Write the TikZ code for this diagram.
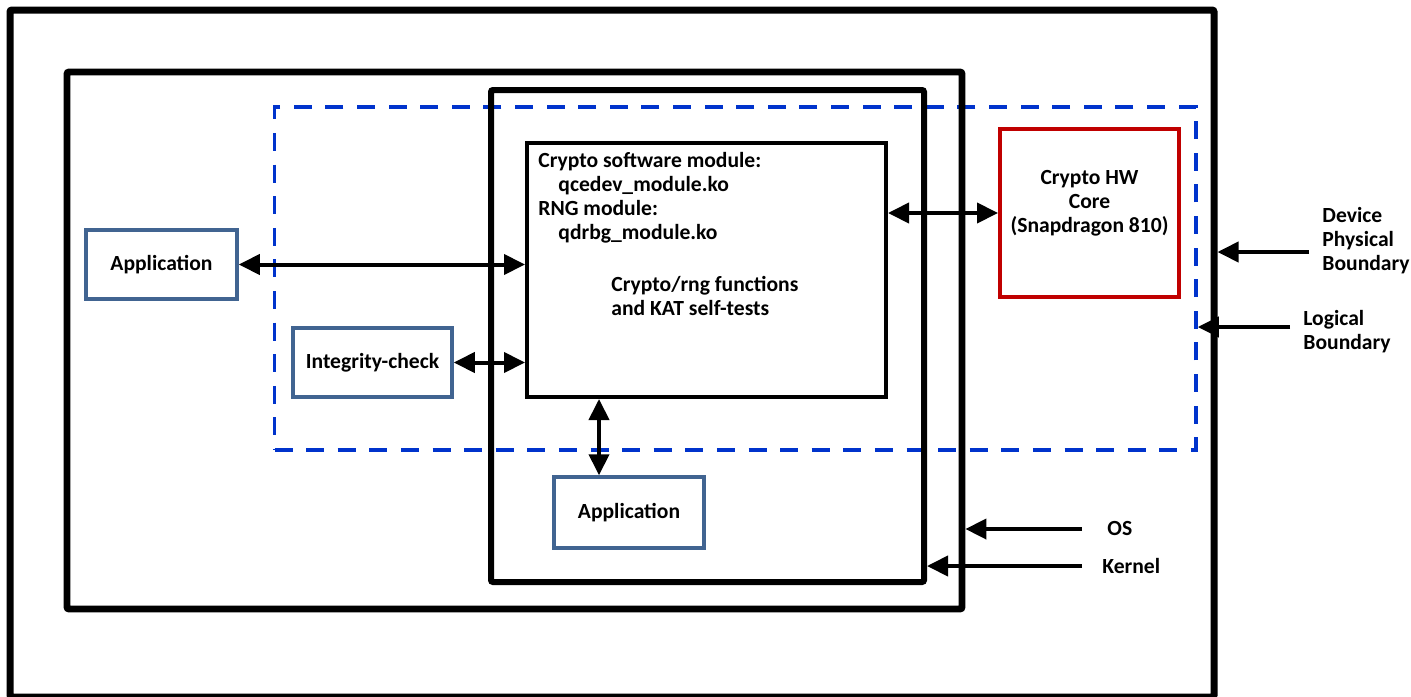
\documentclass[tikz,border=0pt]{standalone}
\usepackage{fontspec}
\setmainfont{Carlito}
\usetikzlibrary{positioning, arrows.meta, fit}
\definecolor{appframe}{RGB}{65,100,145}
\definecolor{logicblue}{RGB}{0,51,204}
\definecolor{hwred}{RGB}{192,0,0}
\newcommand{\lblfont}{\fontsize{10.8}{12}\selectfont\bfseries}
\tikzset{
  % Boundaries
  physbound/.style={draw, line width=3.5pt, inner sep=0pt, rounded corners=1pt},
  osbound/.style={draw, line width=3.4pt, inner sep=0pt, rounded corners=1pt},
  kernbound/.style={draw, line width=3pt, inner sep=0pt, rounded corners=1pt},
  logbound/.style={
    draw=logicblue, line width=1.75pt, inner sep=0pt,
    dash pattern=on 9pt off 6.8pt
  },
  % Blocks
  appbox/.style={
    draw=appframe, line width=1.75pt, align=center, font=\lblfont,
    minimum height=34.5pt, inner sep=2pt
  },
  modbox/.style={draw, line width=2pt, minimum width=179.5pt, minimum height=127pt},
  hwbox/.style={draw=hwred, line width=2pt, minimum width=89.5pt, minimum height=84pt},
  txt/.style={font=\lblfont, align=left, inner sep=0pt},
  % Arrows
  link/.style={<->, line width=2pt},
  pointer/.style={->, line width=2pt},
}

\begin{document}
\begin{tikzpicture}[x=0.5pt, y=-0.5pt, >={Triangle[length=10.5pt, width=10pt]}]
  \useasboundingbox (0,0) rectangle (1411,696);

  %% ── Boundaries ──
  \node[logbound, fit={(274.5,107) (1196,450)}] (logical) {};
  \node[physbound, fit={(10,10) (1214,697)}] (device) {};
  \node[osbound, fit={(67,72) (962,609)}] (os) {};
  \node[kernbound, fit={(491,90) (924,582)}] (kernel) {};

  %% ── Crypto module ──
  \node[modbox] (crypto) at (706.5,270) {};
  \node[txt, anchor=north west] (swmods) at (538,152)
    {Crypto software module:\\\hspace*{10pt}qcedev\_module.ko\\RNG module:\\\hspace*{10pt}qdrbg\_module.ko};
  \node[txt, anchor=north west] (katfn) at (611,276) {Crypto/rng functions\\and KAT self-tests};

  %% ── Hardware core ──
  \node[hwbox] (hw) at (1089.5,213) {};
  \node[txt, align=center, anchor=north] (hwname) at (1089.5,170) {Crypto HW\\Core\\(Snapdragon 810)};

  %% ── Applications ──
  \node[appbox, minimum width=75.5pt] (appuser) at (161.5,264.5) {Application};
  \node[appbox, minimum width=79.5pt] (integ) at (372.5,362.5) {Integrity-check};
  \node[appbox, minimum width=75pt, minimum height=35.5pt] (appkern) at (629,512.5) {Application};

  %% ── Boundary labels ──
  \node[txt, anchor=north west] (devlbl) at (1322,207) {Device\\Physical\\Boundary};
  \node[txt, anchor=north west] (loglbl) at (1303,310) {Logical\\Boundary};
  \node[txt, anchor=base west] (oslbl) at (1107,535) {OS};
  \node[txt, anchor=base west] (kernlbl) at (1102,573) {Kernel};

  %% ── Interfaces ──
  \draw[link] (appuser.east) -- (appuser.east -| crypto.west);
  \draw[link] (integ.east) -- (integ.east -| crypto.west);
  \draw[link] (hw.west) -- (hw.west -| crypto.east);
  \draw[link] ([xshift=-15pt]appkern.north) -- ([xshift=-15pt]appkern.north |- crypto.south);

  %% ── Boundary pointers ──
  \coordinate (devtail) at (1309,252);
  \coordinate (logtail) at (1290,327);
  \coordinate (ostail) at (1082,529);
  \coordinate (kerntail) at (1082,566);
  \draw[pointer] (devtail) -- (devtail -| device.east);
  \draw[pointer] (logtail) -- (logtail -| logical.east);
  \draw[pointer] (ostail) -- (ostail -| os.east);
  \draw[pointer] (kerntail) -- (kerntail -| kernel.east);

\end{tikzpicture}
\end{document}
